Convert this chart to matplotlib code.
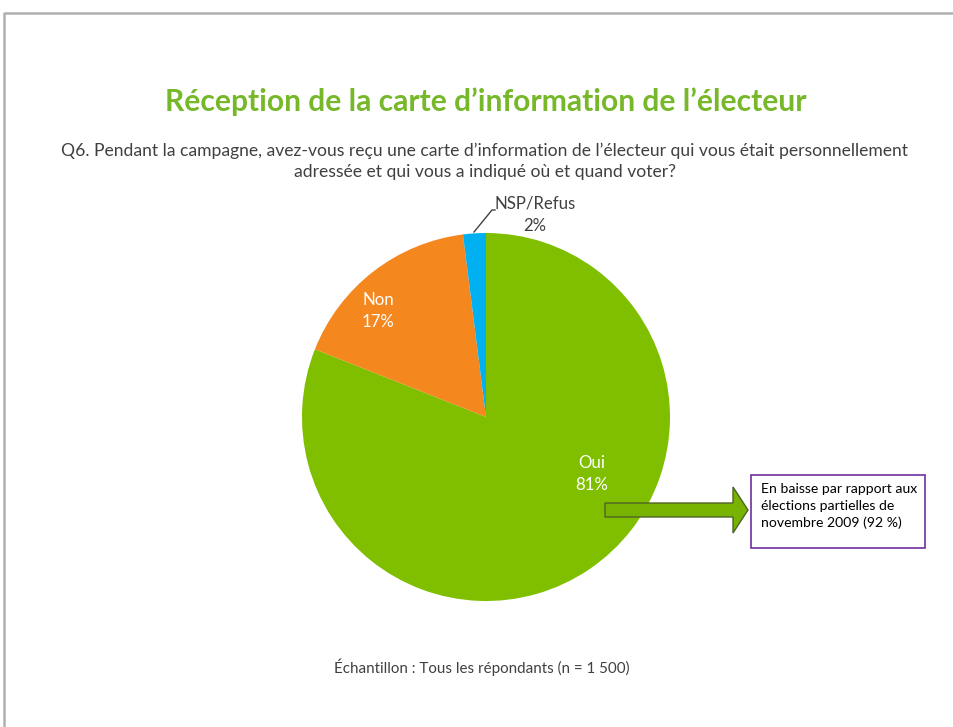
import matplotlib.pyplot as plt
import matplotlib.patches as mpatches

# data
categories = ["Oui", "Non", "NSP/Refus"]
values = [81, 17, 2]
colors = ["#7fbf00", "#f5871f", "#00b0f0"]

title = "Réception de la carte d’information de l’électeur"
question = ("Q6. Pendant la campagne, avez-vous reçu une carte d’information de l’électeur qui vous était personnellement\n"
            "adressée et qui vous a indiqué où et quand voter?")
note = "En baisse par rapport aux\nélections partielles de\nnovembre 2009 (92 %)"
sample = "Échantillon : Tous les répondants (n = 1 500)"

W, H = 954, 727
plt.rcParams['font.family'] = ['Lato', 'DejaVu Sans']

fig = plt.figure(figsize=(W / 100, H / 100), dpi=100)
ax = fig.add_axes([0, 0, 1, 1])

# frame of the slide (top and left only)
ax.plot([4.5, 4.5, W], [0, H - 12.5, H - 12.5], color="#b0b0b0", lw=1.8)

ax.text(486, H - 102, title, ha="center", va="center", fontsize=21.6,
        fontweight="bold", color="#76b82a")
ax.text(485, H - 161, question, ha="center", va="center", fontsize=12.6,
        color="#404040", linespacing=1.38)
ax.text(482, H - 667, sample, ha="center", va="center", fontsize=10.9,
        color="#404040")

cx, cy, r = 486, H - 417, 184
wedges, _ = ax.pie(values, colors=colors, startangle=90, counterclock=False,
                   center=(cx, cy), radius=r, frame=True,
                   wedgeprops=dict(linewidth=0))
ax.set_xlim(0, W)
ax.set_ylim(0, H)
ax.set_aspect("equal")
ax.axis("off")

# labels
ax.text(cx + 106, cy - 57, f"{categories[0]}\n{values[0]}%", ha="center",
        va="center", color="white", fontsize=12.1, linespacing=1.5)
ax.text(cx - 108, cy + 106, f"{categories[1]}\n{values[1]}%", ha="center",
        va="center", color="white", fontsize=12.1, linespacing=1.5)
ax.plot([cx - 12, cx + 6, cx + 9], [cy + 185, cy + 207, cy + 207],
        color="#404040", lw=1)
ax.text(cx + 49, cy + 202, f"{categories[2]}\n{values[2]}%", ha="center",
        va="center", color="#404040", fontsize=12.1, linespacing=1.5)

# arrow and note box
arrow = mpatches.FancyArrow(605, H - 510, 128, 0, width=14, head_width=46,
                            head_length=15, length_includes_head=False,
                            facecolor="#77b300", edgecolor="#4f6228", lw=1)
ax.add_patch(arrow)
box = mpatches.Rectangle((751, H - 548), 174, 73, facecolor="white",
                         edgecolor="#7030a0", lw=1.2)
ax.add_patch(box)
ax.text(761, H - 506, note, ha="left", va="center", fontsize=10.1,
        color="black", linespacing=1.42)

fig.savefig("out.png", dpi=100)
